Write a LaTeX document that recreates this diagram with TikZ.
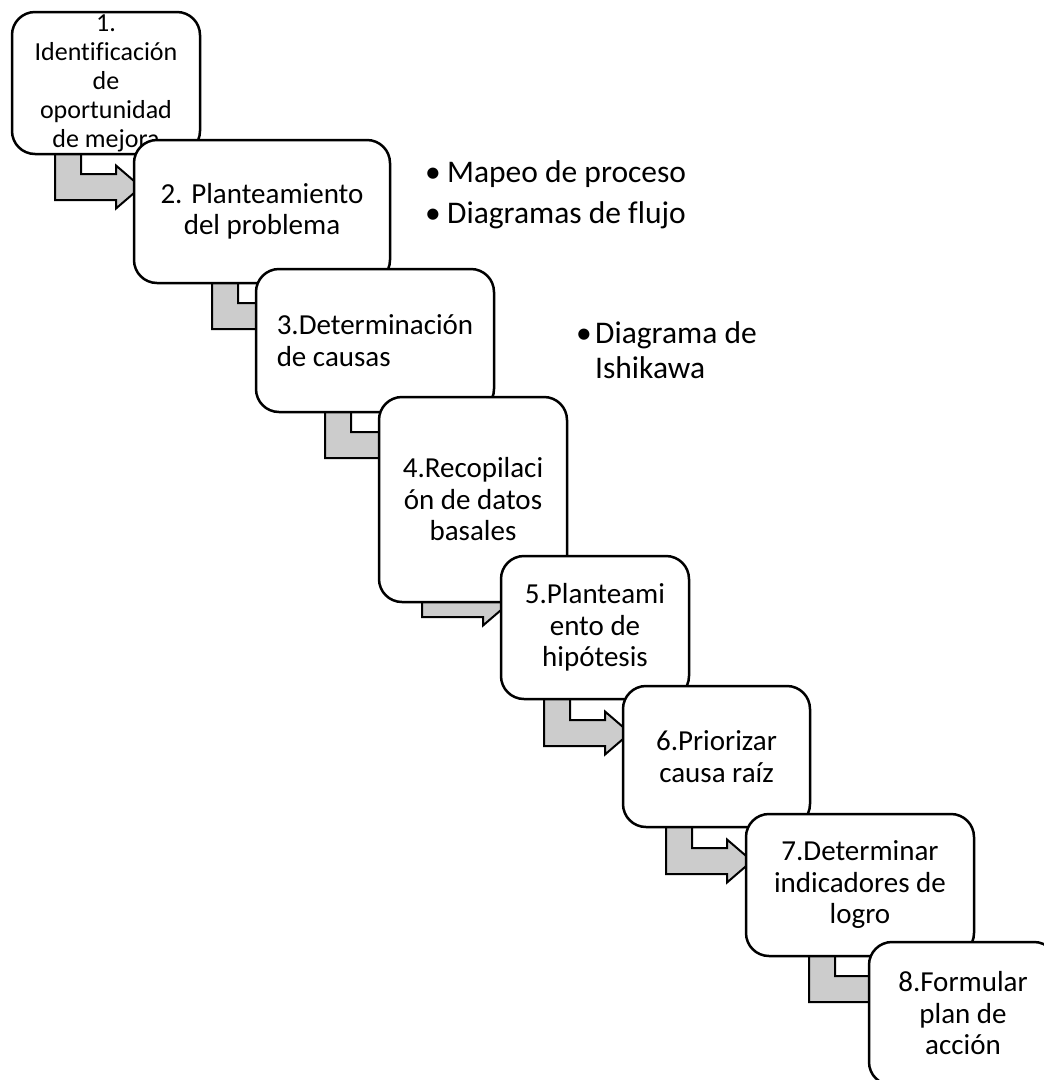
\documentclass[tikz,border=0pt]{standalone}
\usepackage{fontspec}
\setmainfont{Carlito}[Ligatures=NoCommon]
\usetikzlibrary{calc,backgrounds}
\definecolor{arrowgray}{RGB}{204,204,204}
\begin{document}
\begin{tikzpicture}[x=1pt,y=-1pt,
  stepbox/.style={draw=black, line width=2.5pt, fill=white, rounded corners=23pt,
                  inner sep=0pt, outer sep=0pt},
  steptext/.style={inner sep=0pt, align=center, font=\fontsize{29}{31.5}\selectfont},
  arrowshape/.style={draw=black, line width=2pt, fill=arrowgray, line join=miter},
  bullettext/.style={inner sep=0pt, align=left, font=\fontsize{31.5}{35}\selectfont},
  bentarrow/.pic={\path[arrowshape] (0,-60) -- (0,0) -- (61,0) -- (61,8.5) -- (86,-13)
                  -- (61,-34.5) -- (61,-26) -- (26,-26) -- (26,-60) -- cycle;}
]
\useasboundingbox (0,0) rectangle (1044,1080);
\clip (0,0) rectangle (1044,1080);

% steps of the process, each box laid over the previous one
\node[stepbox, minimum width=188pt, minimum height=142pt] (b1) at (106,83) {};
\node[steptext, font=\fontsize{26}{29}\selectfont] (t1) at (b1.center)
  {1.\\Identificación\\de\\oportunidad\\de mejora};

\node[stepbox, minimum width=256pt, minimum height=143pt] (b2) at (262,211.5) {};
\node[steptext] (t2) at (b2.center) {2. Planteamiento\\del problema};

\node[stepbox, minimum width=238pt, minimum height=143pt] (b3) at (375,340.5) {};
\node[steptext, align=left] (t3) at (b3.center) {3.Determinación\\de causas};

\node[stepbox, minimum width=188pt, minimum height=205pt] (b4) at (473,499.5) {};
\node[steptext] (t4) at (b4.center) {4.Recopilaci\\ón de datos\\basales};

\node[stepbox, minimum width=188pt, minimum height=143pt] (b5) at (595,627.5) {};
\node[steptext] (t5) at (b5.center) {5.Planteami\\ento de\\hipótesis};

\node[stepbox, minimum width=187pt, minimum height=141pt] (b6) at (716.5,756.5) {};
\node[steptext] (t6) at (b6.center) {6.Priorizar\\causa raíz};

\node[stepbox, minimum width=228pt, minimum height=142pt] (b7) at (860,885) {};
\node[steptext] (t7) at (b7.center) {7.Determinar\\indicadores de\\logro};

\node[stepbox, minimum width=188pt, minimum height=143pt] (b8) at (963,1013.5) {};
\node[steptext] (t8) at (b8.center) {8.Formular\\plan de\\acción};

% bent arrows running behind the boxes
\begin{scope}[on background layer]
  \pic at ($(b1.south west)+(43,46)$) {bentarrow};
  \pic at ($(b2.south west)+(78,46)$) {bentarrow};
  \pic at ($(b3.south west)+(69,46)$) {bentarrow};
  \pic at ($(b4.south west)+(43,15)$) {bentarrow};
  \pic at ($(b5.south west)+(43,47)$) {bentarrow};
  \pic at ($(b6.south west)+(43,47)$) {bentarrow};
  \pic at ($(b7.south west)+(63,46)$) {bentarrow};
\end{scope}

% tools listed beside the steps
\node[bullettext, anchor=west] (n1) at (425,194.5)
  {\makebox[22pt][l]{•}Mapeo de proceso\\[6pt]\makebox[22pt][l]{•}Diagramas de flujo};
\node[bullettext, anchor=west] (n2) at (576,350)
  {\makebox[19pt][l]{•}Diagrama de\\\hspace*{19pt}Ishikawa};
\end{tikzpicture}
\end{document}
